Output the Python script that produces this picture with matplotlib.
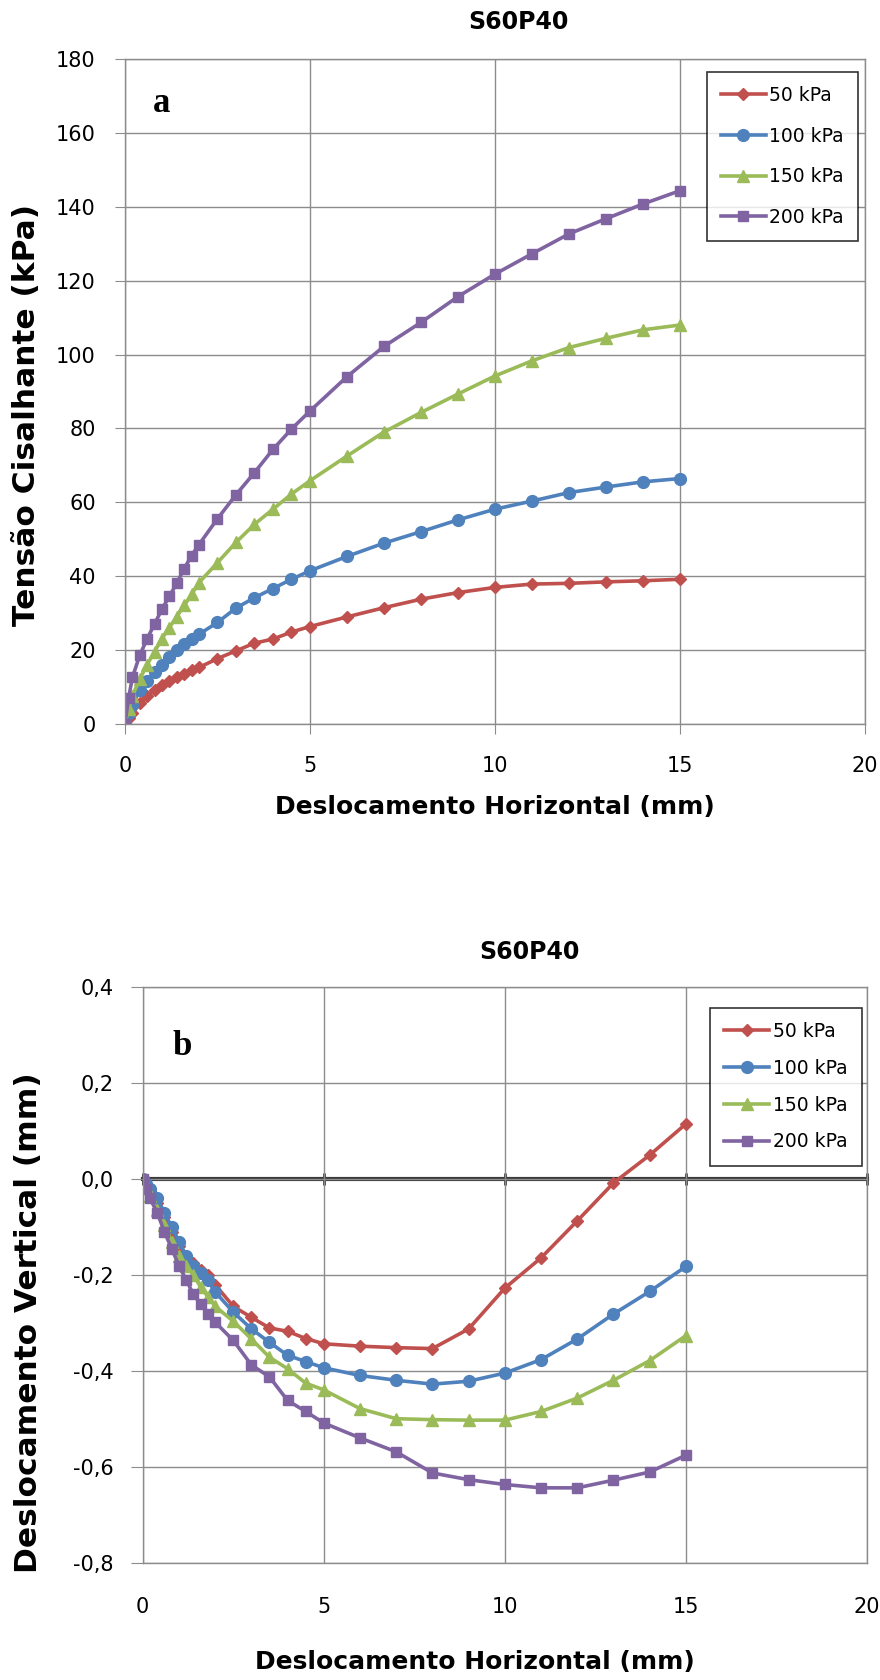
import matplotlib
matplotlib.use('Agg')
import matplotlib.pyplot as plt
import numpy as np

# horizontal displacement (mm), same readings for both tests
desloc_h = [0, 0.1, 0.2, 0.4, 0.6, 0.8, 1.0, 1.2, 1.4, 1.6, 1.8, 2.0, 2.5, 3, 3.5,
            4, 4.5, 5, 6, 7, 8, 9, 10, 11, 12, 13, 14, 15]

labels = ['50 kPa', '100 kPa', '150 kPa', '200 kPa']

# shear stress (kPa)
tensao_50 = [0, 1.5, 3, 5.5, 7.5, 9, 10.5, 11.5, 12.5, 13.5, 14.5, 15.2, 17.6, 19.7,
             21.8, 22.9, 24.8, 26.3, 28.9, 31.4, 33.7, 35.5, 36.9, 37.8, 38.0, 38.4,
             38.7, 39.1]
tensao_100 = [0, 3, 5, 9, 11.5, 14, 16, 18, 20, 21.5, 23, 24.2, 27.4, 31.3, 34.1,
              36.6, 39.1, 41.4, 45.3, 48.9, 52.0, 55.2, 58.1, 60.3, 62.6, 64.1, 65.5,
              66.4]
tensao_150 = [0, 4, 7.5, 12, 16, 19.5, 23, 26, 29, 32, 35, 38.2, 43.6, 49.1, 54.0,
              58.1, 62.2, 65.8, 72.5, 79.0, 84.3, 89.3, 94.2, 98.3, 101.9, 104.4,
              106.7, 108.0]
tensao_200 = [0, 7, 12.5, 18.5, 23, 27, 31, 34.5, 38, 42, 45.5, 48.5, 55.5, 62, 68,
              74.3, 79.8, 84.7, 94.0, 102.2, 108.7, 115.7, 121.8, 127.3, 132.7, 136.8,
              140.8, 144.4]

# vertical displacement (mm)
vert_50 = [0, -0.01, -0.025, -0.05, -0.08, -0.11, -0.14, -0.16, -0.175, -0.19, -0.2,
           -0.22, -0.265, -0.288, -0.310, -0.317, -0.332, -0.343, -0.348, -0.351,
           -0.353, -0.312, -0.227, -0.164, -0.087, -0.008, 0.050, 0.115]
vert_100 = [0, -0.01, -0.02, -0.04, -0.07, -0.1, -0.13, -0.16, -0.18, -0.195, -0.21,
            -0.235, -0.277, -0.312, -0.340, -0.367, -0.380, -0.393, -0.409, -0.419,
            -0.427, -0.421, -0.404, -0.376, -0.333, -0.281, -0.234, -0.182]
vert_150 = [0, -0.015, -0.035, -0.065, -0.095, -0.13, -0.16, -0.18, -0.2, -0.225,
            -0.245, -0.265, -0.296, -0.333, -0.371, -0.395, -0.425, -0.439, -0.478,
            -0.499, -0.501, -0.502, -0.502, -0.484, -0.456, -0.419, -0.378, -0.326]
vert_200 = [0, -0.02, -0.04, -0.07, -0.11, -0.145, -0.18, -0.21, -0.24, -0.26, -0.28,
            -0.298, -0.336, -0.387, -0.412, -0.461, -0.484, -0.508, -0.539, -0.568,
            -0.612, -0.626, -0.636, -0.643, -0.643, -0.627, -0.610, -0.575]

cores = ['#C0504D', '#4F81BD', '#9BBB59', '#8064A2']
marcadores = [('D', 6), ('o', 8.5), ('^', 8.5), ('s', 7.5)]
grid_cor = '#8C8C8C'


def desenha_series(ax, series):
    for y, lab, c, (m, ms) in zip(series, labels, cores, marcadores):
        ax.plot(desloc_h, y, color=c, lw=2.6, marker=m, ms=ms, mec=c, mfc=c,
                label=lab)


def estilo(ax):
    ax.grid(True, color=grid_cor, lw=1)
    ax.set_axisbelow(True)
    for s in ax.spines.values():
        s.set_color(grid_cor)
        s.set_linewidth(1)
    ax.set_xlim(0, 20)
    ax.set_xticks([0, 5, 10, 15, 20])
    ax.tick_params(axis='both', colors=grid_cor, labelcolor='black',
                   labelsize=15, length=7)


def legenda(ax, anchor, espaco):
    leg = ax.legend(loc='upper right', bbox_to_anchor=anchor, borderaxespad=0,
                    fontsize=13.5, frameon=True, fancybox=False, handlelength=2.4,
                    labelspacing=espaco, borderpad=0.75, handletextpad=0.2)
    leg.get_frame().set_edgecolor('black')
    leg.get_frame().set_linewidth(1.2)


def plot_s60p40():
    fig = plt.figure(figsize=(8.8, 16.8), dpi=100)

    # ---- a: shear stress
    ax1 = fig.add_axes([0.142, 0.5693, 0.841, 0.3954])
    desenha_series(ax1, [tensao_50, tensao_100, tensao_150, tensao_200])
    estilo(ax1)
    ax1.set_ylim(0, 180)
    ax1.set_yticks(np.arange(0, 181, 20))
    ax1.tick_params(axis='y', pad=14)
    ax1.tick_params(axis='x', pad=16)
    ax1.set_ylabel('Tensão Cisalhante (kPa)', fontsize=22.5, fontweight='bold')
    ax1.yaxis.set_label_coords(-0.114, 0.464)
    ax1.set_xlabel('Deslocamento Horizontal (mm)', fontsize=18, fontweight='bold')
    ax1.xaxis.set_label_coords(0.5, -0.108)
    ax1.text(0.05, 0.934, 'a', transform=ax1.transAxes, fontsize=25,
             fontweight='bold', family='Liberation Serif', ha='center', va='center')
    legenda(ax1, (0.9905, 0.981), 1.15)
    fig.text(0.589, 0.987, 'S60P40', fontsize=17, fontweight='bold',
             ha='center', va='center')

    # ---- b: vertical displacement
    ax2 = fig.add_axes([0.1622, 0.0695, 0.823, 0.343])
    desenha_series(ax2, [vert_50, vert_100, vert_150, vert_200])
    estilo(ax2)
    ax2.set_ylim(-0.8, 0.4)
    yt = np.round(np.arange(-0.8, 0.41, 0.2), 1)
    ax2.set_yticks(yt)
    ax2.set_yticklabels([('%.1f' % v).replace('.', ',').replace('-0,0', '0,0') for v in yt])
    ax2.tick_params(axis='y', pad=12, length=9)
    ax2.tick_params(axis='x', length=0, pad=24)
    # x axis line crossing at y = 0
    sec = ax2.secondary_xaxis(2 / 3)
    sec.set_xticks([0, 5, 10, 15, 20])
    sec.tick_params(axis='x', direction='inout', length=9, width=2,
                    colors='#3A3A3A', labelbottom=False, labeltop=False)
    sec.spines['bottom'].set_color('#3A3A3A')
    sec.spines['bottom'].set_linewidth(3)
    sec.spines['top'].set_color('#3A3A3A')
    sec.spines['top'].set_linewidth(3)
    ax2.set_ylabel('Deslocamento Vertical (mm)', fontsize=22.5, fontweight='bold')
    ax2.yaxis.set_label_coords(-0.138, 0.417)
    ax2.set_xlabel('Deslocamento Horizontal (mm)', fontsize=18, fontweight='bold')
    ax2.xaxis.set_label_coords(0.459, -0.15)
    ax2.text(0.054, 0.896, 'b', transform=ax2.transAxes, fontsize=25,
             fontweight='bold', family='Liberation Serif', ha='center', va='center')
    legenda(ax2, (0.993, 0.9636), 0.95)
    fig.text(0.602, 0.4333, 'S60P40', fontsize=17, fontweight='bold',
             ha='center', va='center')

    fig.savefig('out.png', dpi=100)


if __name__ == "__main__":
    plot_s60p40()
